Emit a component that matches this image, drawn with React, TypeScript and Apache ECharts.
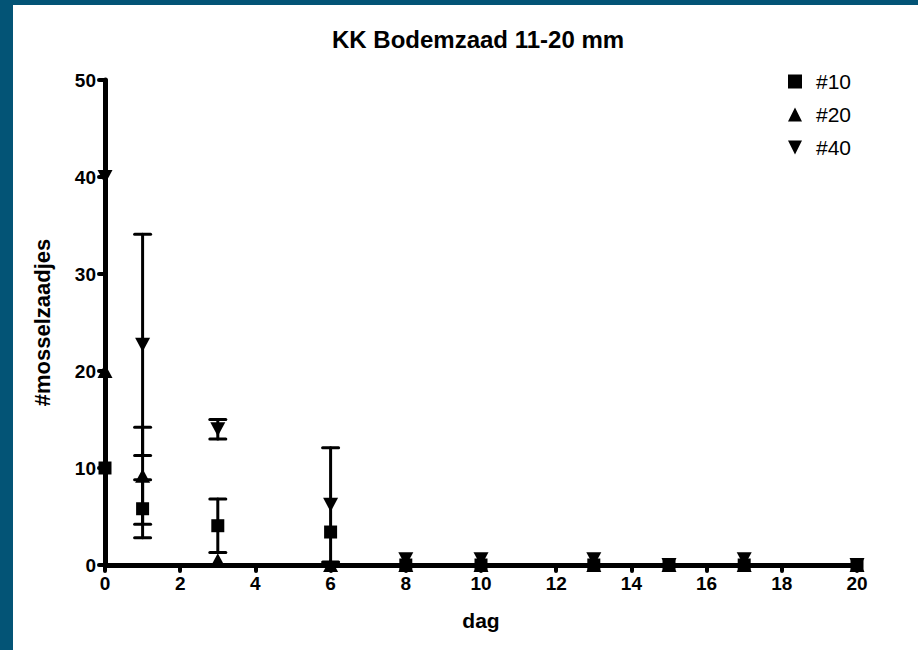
import React, { useEffect, useRef } from "react";
import * as echarts from "echarts";

const titleText = "KK Bodemzaad 11-20 mm";
const xName = "dag";
const yName = "#mosselzaadjes";
const seriesNames = ["#10", "#20", "#40"];
const days = [0, 1, 3, 6, 8, 10, 13, 15, 17, 20];
const mean10 = [10, 5.8, 4.05, 3.4, 0, 0, 0, 0, 0, 0];
const err10 = [0, 3.0, 2.75, 0, 0, 0, 0, 0, 0, 0];
const mean20 = [20, 9.2, 0.5, 0, 0, 0, 0, 0, 0, 0];
const err20 = [0, 5.0, 0, 0, 0, 0, 0, 0, 0, 0];
const mean40 = [40, 22.7, 14.0, 6.2, 0.6, 0.6, 0.6, 0, 0.6, 0];
const err40 = [0, 11.4, 1.0, 5.9, 0, 0, 0, 0, 0, 0];

const DOWN_TRI = "path://M0,0 L10,0 L5,10 Z";

function errData(means: number[], errs: number[]) {
  return days.map((d, i) => [d, means[i], errs[i]]);
}

function errSeries(name: string, means: number[], errs: number[]) {
  return {
    type: "custom",
    name: name + " err",
    z: 2,
    silent: true,
    data: errData(means, errs),
    renderItem: (params: any, api: any) => {
      const x = api.value(0);
      const m = api.value(1);
      const e = api.value(2);
      if (!e) return null;
      const top = api.coord([x, m + e]);
      const bot = api.coord([x, m - e]);
      const hw = 8;
      const style = { stroke: "#000", lineWidth: 3, lineCap: "round" };
      return {
        type: "group",
        children: [
          { type: "line", shape: { x1: top[0], y1: top[1], x2: bot[0], y2: bot[1] }, style },
          { type: "line", shape: { x1: top[0] - hw, y1: top[1], x2: top[0] + hw, y2: top[1] }, style },
          { type: "line", shape: { x1: bot[0] - hw, y1: bot[1], x2: bot[0] + hw, y2: bot[1] }, style },
        ],
      };
    },
  };
}

export default function App() {
  const ref = useRef<HTMLDivElement>(null);
  useEffect(() => {
    const chart = echarts.init(ref.current!, null, { renderer: "svg" });
    const axisFont = { fontFamily: "Liberation Sans, Arial, sans-serif", fontWeight: "bold" as const, color: "#000" };
    const markerStyle = { color: "#000", opacity: 1 };
    chart.setOption({
      animation: false,
      backgroundColor: "#fff",
      title: {
        text: titleText,
        left: 327,
        top: 22,
        textStyle: { ...axisFont, fontSize: 24 },
      },
      graphic: [
        { type: "rect", shape: { x: 0, y: 0, width: 13, height: 650 }, style: { fill: "#035476" }, z: 100 },
        { type: "rect", shape: { x: 0, y: 0, width: 918, height: 5 }, style: { fill: "#035476" }, z: 100 },
      ],
      legend: {
        orient: "vertical",
        left: 783,
        top: 66,
        itemWidth: 14,
        itemHeight: 14,
        itemGap: 12,
        textStyle: { fontFamily: "Liberation Sans, Arial, sans-serif", fontSize: 21, color: "#000", padding: [0, 0, 0, 9] },
        data: [
          { name: seriesNames[0], icon: "rect", itemStyle: markerStyle },
          { name: seriesNames[1], icon: "triangle", itemStyle: markerStyle },
          { name: seriesNames[2], icon: DOWN_TRI, itemStyle: markerStyle },
        ],
      },
      grid: { left: 105, right: 61, top: 80, bottom: 85 },
      xAxis: {
        type: "value",
        min: 0,
        max: 20,
        interval: 2,
        name: xName,
        nameLocation: "middle",
        nameGap: 45,
        nameTextStyle: { ...axisFont, fontSize: 21 },
        axisLine: { lineStyle: { color: "#000", width: 5 } },
        axisTick: { length: 6, lineStyle: { color: "#000", width: 4, cap: "round" } },
        axisLabel: { ...axisFont, fontSize: 19, margin: 9 },
        splitLine: { show: false },
      },
      yAxis: {
        type: "value",
        min: 0,
        max: 50,
        interval: 10,
        name: yName,
        nameLocation: "middle",
        nameGap: 52,
        nameRotate: 90,
        nameTextStyle: { ...axisFont, fontSize: 22 },
        axisLine: { lineStyle: { color: "#000", width: 5 } },
        axisTick: { length: 6, lineStyle: { color: "#000", width: 4, cap: "round" } },
        axisLabel: { ...axisFont, fontSize: 19, margin: 9 },
        splitLine: { show: false },
      },
      series: [
        errSeries(seriesNames[0], mean10, err10),
        errSeries(seriesNames[1], mean20, err20),
        errSeries(seriesNames[2], mean40, err40),
        {
          type: "scatter",
          name: seriesNames[0],
          symbol: "rect",
          symbolSize: 13,
          z: 3,
          itemStyle: markerStyle,
          data: days.map((d, i) => [d, mean10[i]]),
        },
        {
          type: "scatter",
          name: seriesNames[1],
          symbol: "triangle",
          symbolSize: [15, 14],
          z: 3,
          itemStyle: markerStyle,
          data: days.map((d, i) => [d, mean20[i]]),
        },
        {
          type: "scatter",
          name: seriesNames[2],
          symbol: "triangle",
          symbolRotate: 180,
          symbolSize: [15, 14],
          z: 3,
          itemStyle: markerStyle,
          data: days.map((d, i) => [d, mean40[i]]),
        },
      ],
    });
    return () => chart.dispose();
  }, []);
  return (
    <div
      ref={ref}
      style={{ position: "fixed", left: 0, top: 0, width: 918, height: 650, background: "#fff" }}
    />
  );
}
